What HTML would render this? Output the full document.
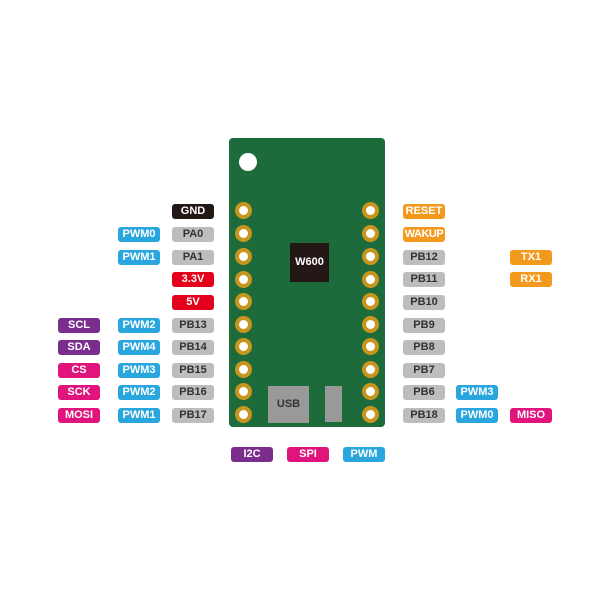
<!DOCTYPE html>
<html><head><style>
body{margin:0;width:600px;height:600px;background:#fff;position:relative;overflow:hidden;font-family:"Liberation Sans","DejaVu Sans",sans-serif;}
.l{position:absolute;width:42px;height:15px;border-radius:3px;color:#fff;font-size:11px;font-weight:bold;text-align:center;line-height:15px;white-space:nowrap;}
.g{background:#bdbdbd;color:#333}
.b{background:#2aa6de}
.p{background:#7b2d8e}
.m{background:#e1137c}
.o{background:#f39a1e}
.r{background:#e2001a}
.k{background:#231815}
.pad{position:absolute;width:9px;height:9px;border-radius:50%;background:#fff;border:4px solid #c8961e;}
</style></head><body>
<div style="position:absolute;left:229px;top:138px;width:156px;height:289px;background:#1d6b3a;border-radius:4px"></div>
<div style="position:absolute;left:239px;top:153px;width:18px;height:18px;border-radius:50%;background:#fff"></div>
<div style="position:absolute;left:290px;top:243px;width:39px;height:39px;background:#231815;color:#fff;font-size:11px;font-weight:bold;text-align:center;line-height:39px">W600</div>
<div style="position:absolute;left:268px;top:386px;width:41px;height:37px;background:#999;color:#333;font-size:11px;font-weight:bold;text-align:center;line-height:37px">USB</div>
<div style="position:absolute;left:325px;top:386px;width:17px;height:36px;background:#999"></div>

<div class="pad" style="left:235px;top:202px"></div><div class="pad" style="left:362px;top:202px"></div>
<div class="pad" style="left:235px;top:225px"></div><div class="pad" style="left:362px;top:225px"></div>
<div class="pad" style="left:235px;top:248px"></div><div class="pad" style="left:362px;top:248px"></div>
<div class="pad" style="left:235px;top:271px"></div><div class="pad" style="left:362px;top:271px"></div>
<div class="pad" style="left:235px;top:293px"></div><div class="pad" style="left:362px;top:293px"></div>
<div class="pad" style="left:235px;top:316px"></div><div class="pad" style="left:362px;top:316px"></div>
<div class="pad" style="left:235px;top:338px"></div><div class="pad" style="left:362px;top:338px"></div>
<div class="pad" style="left:235px;top:361px"></div><div class="pad" style="left:362px;top:361px"></div>
<div class="pad" style="left:235px;top:383px"></div><div class="pad" style="left:362px;top:383px"></div>
<div class="pad" style="left:235px;top:406px"></div><div class="pad" style="left:362px;top:406px"></div>

<div class="l k" style="left:172px;top:204px">GND</div>
<div class="l g" style="left:172px;top:227px">PA0</div><div class="l b" style="left:118px;top:227px">PWM0</div>
<div class="l g" style="left:172px;top:250px">PA1</div><div class="l b" style="left:118px;top:250px">PWM1</div>
<div class="l r" style="left:172px;top:272px">3.3V</div>
<div class="l r" style="left:172px;top:295px">5V</div>
<div class="l g" style="left:172px;top:318px">PB13</div><div class="l b" style="left:118px;top:318px">PWM2</div><div class="l p" style="left:58px;top:318px">SCL</div>
<div class="l g" style="left:172px;top:340px">PB14</div><div class="l b" style="left:118px;top:340px">PWM4</div><div class="l p" style="left:58px;top:340px">SDA</div>
<div class="l g" style="left:172px;top:363px">PB15</div><div class="l b" style="left:118px;top:363px">PWM3</div><div class="l m" style="left:58px;top:363px">CS</div>
<div class="l g" style="left:172px;top:385px">PB16</div><div class="l b" style="left:118px;top:385px">PWM2</div><div class="l m" style="left:58px;top:385px">SCK</div>
<div class="l g" style="left:172px;top:408px">PB17</div><div class="l b" style="left:118px;top:408px">PWM1</div><div class="l m" style="left:58px;top:408px">MOSI</div>

<div class="l o" style="left:403px;top:204px">RESET</div>
<div class="l o" style="left:403px;top:227px;letter-spacing:-0.5px">WAKUP</div>
<div class="l g" style="left:403px;top:250px">PB12</div><div class="l o" style="left:510px;top:250px">TX1</div>
<div class="l g" style="left:403px;top:272px">PB11</div><div class="l o" style="left:510px;top:272px">RX1</div>
<div class="l g" style="left:403px;top:295px">PB10</div>
<div class="l g" style="left:403px;top:318px">PB9</div>
<div class="l g" style="left:403px;top:340px">PB8</div>
<div class="l g" style="left:403px;top:363px">PB7</div>
<div class="l g" style="left:403px;top:385px">PB6</div><div class="l b" style="left:456px;top:385px">PWM3</div>
<div class="l g" style="left:403px;top:408px">PB18</div><div class="l b" style="left:456px;top:408px">PWM0</div><div class="l m" style="left:510px;top:408px">MISO</div>

<div class="l p" style="left:231px;top:447px">I2C</div>
<div class="l m" style="left:287px;top:447px">SPI</div>
<div class="l b" style="left:343px;top:447px">PWM</div>
</body></html>
